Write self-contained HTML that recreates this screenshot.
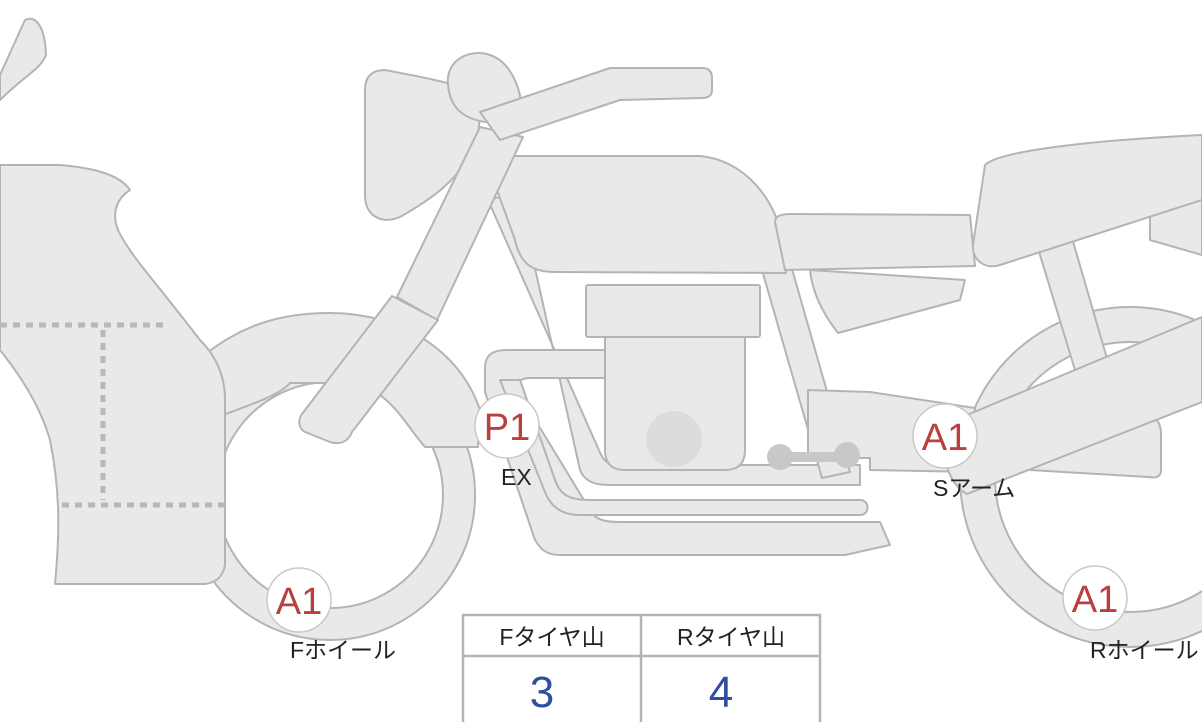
<!DOCTYPE html>
<html><head><meta charset="utf-8"><style>
html,body{margin:0;padding:0;background:#fff;width:1202px;height:722px;overflow:hidden}
svg{display:block}
text{font-family:"Liberation Sans","Noto Sans CJK JP",sans-serif}
</style></head><body>
<svg width="1202" height="722" viewBox="0 0 1202 722">
<g fill="#e9e9e7" stroke="#b4b4b4" stroke-width="2" stroke-linejoin="round">
<!-- rear wheel -->
<path fill-rule="evenodd" d="M1130,307 a170,170 0 1,0 0.1,0 Z M1130,342 a135,135 0 1,1 -0.1,0 Z"/>
<!-- rear strut -->
<path d="M1037,245 L1072,238 L1108,362 L1075,370 Z"/>
<!-- rear fender -->
<path d="M1150,195 L1202,190 L1202,255 L1150,240 Z"/>
<!-- front wheel -->
<path fill-rule="evenodd" d="M330,350 a145,145 0 1,0 0.1,0 Z M330,382 a113,113 0 1,1 -0.1,0 Z"/>
<!-- front fender -->
<path d="M198,360 C240,325 280,313 330,313 C400,313 460,350 480,410 L478,447 L425,447 C410,430 400,410 380,395 C365,387 350,383 330,383 L290,383 C280,395 250,405 223,415 Z"/>
<!-- frame tubes -->
<path d="M488,200 L518,192 L580,470 C585,482 595,485 610,485 L860,485 L860,465 L620,465 C605,465 602,458 598,448 Z"/>
<path d="M762,270 L790,262 L850,472 L822,478 Z"/>
<!-- exhaust pipes -->
<path d="M485,368 C485,355 492,350 508,350 L605,350 L605,378 L530,378 C518,378 515,385 520,395 L590,510 C595,520 605,522 620,522 L880,522 L890,545 L845,555 L560,555 C545,555 540,548 535,540 L485,392 Z"/>
<path d="M520,380 L555,480 C560,495 570,500 590,500 L860,500 C870,500 870,515 860,515 L580,515 C560,515 550,505 545,492 L500,380 Z"/>
<!-- chain guard -->
<path d="M1030,452 L1148,418 C1158,416 1161,425 1161,435 L1161,470 C1161,478 1155,478 1148,477 L1030,470 Z"/>
<!-- swingarm left -->
<path d="M808,390 L870,392 L975,408 L975,472 L870,470 L870,458 L808,458 Z"/>
<!-- main band -->
<path d="M955,420 L1202,317 L1202,402 L967,494 Q955,488 948,470 Z"/>
<!-- engine -->
<rect x="586" y="285" width="174" height="52" rx="2"/>
<path d="M605,337 L745,337 L745,450 Q745,470 725,470 L625,470 Q605,470 605,450 Z"/>
<!-- side cover under seat -->
<path d="M810,270 L965,280 L960,300 L838,333 C820,310 812,290 810,270 Z"/>
<!-- tank -->
<path d="M513,156 L700,156 C745,160 778,200 785,250 L786,273 L555,272 C530,272 520,262 515,240 L497,190 Z"/>
<!-- seat -->
<path d="M775,222 Q775,214 790,214 L970,215 L975,266 L785,270 Z"/>
<!-- rear seat -->
<path d="M985,165 C1000,150 1100,140 1202,135 L1202,200 L1000,265 C985,270 972,260 973,245 Z"/>
<!-- headlight -->
<path d="M365,90 Q365,70 385,70 C410,75 440,80 465,88 C485,95 480,130 475,145 C460,180 430,200 400,217 C380,225 365,215 365,195 Z"/>
<!-- fork upper -->
<path d="M480,127 L523,137 L437,320 L397,297 Z"/>
<!-- fork lower -->
<path d="M392,296 L438,320 L352,432 C348,442 340,445 330,442 L305,432 C298,428 298,420 302,414 Z"/>
<path d="M448,85 C445,60 470,48 490,55 C505,60 515,75 520,95 C520,110 505,120 485,122 C460,118 450,105 448,85 Z"/>
<!-- handlebar -->
<path d="M480,112 L610,68 L702,68 Q712,68 712,78 L712,90 Q712,98 702,98 L620,100 L500,140 Z"/>
<!-- left shape (rider) -->
<path d="M0,165 L60,165 C95,168 120,175 130,190 C115,200 112,215 118,230 C130,255 150,275 200,340 C215,355 225,375 225,400 L225,565 Q222,582 205,584 L55,584 C60,530 60,490 50,440 C40,405 20,375 0,350 Z"/>
<path d="M0,75 L25,20 C35,15 45,25 46,55 C40,70 25,75 0,100 Z"/>
</g>
<!-- pegs -->
<g fill="#c8c8c8">
<circle cx="780" cy="457" r="13"/><circle cx="847" cy="455" r="13"/>
<rect x="780" y="452" width="67" height="10"/>
<circle cx="674" cy="439" r="28" fill="#dcdcdc"/>
</g>
<!-- dotted lines -->
<g stroke="#b8b8bc" stroke-width="5" stroke-dasharray="7,6" fill="none">
<line x1="0" y1="325" x2="165" y2="325"/>
<line x1="103" y1="330" x2="103" y2="500"/>
<line x1="62" y1="505" x2="225" y2="505"/>
</g>
<!-- badges -->
<g fill="#fff" stroke="#c8c8c8" stroke-width="1.5">
<circle cx="299" cy="600" r="32"/>
<circle cx="507" cy="426" r="32"/>
<circle cx="945" cy="436" r="32"/>
<circle cx="1095" cy="598" r="32"/>
</g>
<g fill="#b8413f" font-size="38" text-anchor="middle">
<text x="299" y="614">A1</text>
<text x="507" y="440">P1</text>
<text x="945" y="450">A1</text>
<text x="1095" y="612">A1</text>
</g>
<g fill="#222" font-size="23">
<text x="290" y="658">Fホイール</text>
<text x="501" y="485">EX</text>
<text x="933" y="496">Sアーム</text>
<text x="1090" y="658">Rホイール</text>
</g>
<!-- table -->
<g fill="none" stroke="#b4b4b8" stroke-width="2.5">
<rect x="463" y="615" width="357" height="110"/>
<line x1="463" y1="656" x2="820" y2="656"/>
<line x1="641" y1="615" x2="641" y2="722"/>
</g>
<g font-size="23" fill="#222" text-anchor="middle">
<text x="552" y="645">Fタイヤ山</text>
<text x="731" y="645">Rタイヤ山</text>
</g>
<g font-size="44" fill="#2f4ea0" text-anchor="middle">
<text x="542" y="707">3</text>
<text x="721" y="707">4</text>
</g>
</svg>
</body></html>
